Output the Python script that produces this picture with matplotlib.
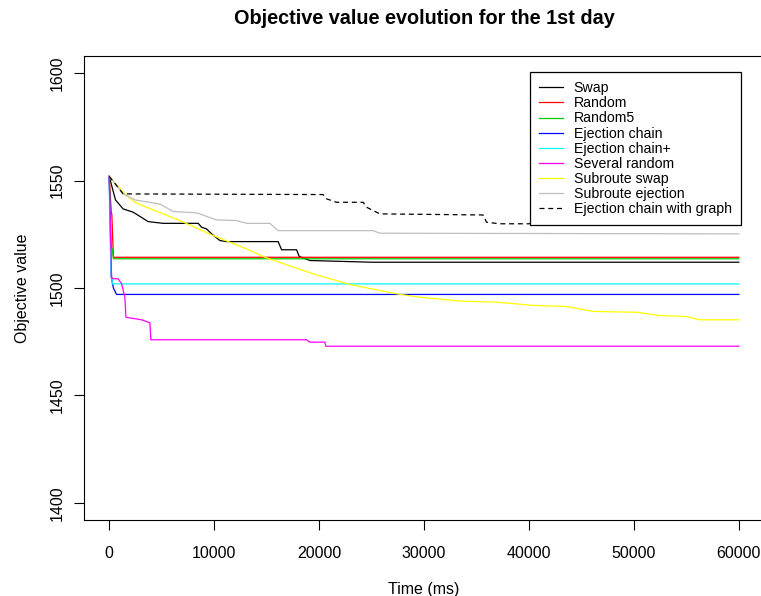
import numpy as np
import matplotlib
matplotlib.use("Agg")
import matplotlib.pyplot as plt

plt.rcParams["font.family"] = ["Liberation Sans", "DejaVu Sans"]

# time (ms) / objective value, one pair of lists per heuristic
swap_t = [0, 600, 1334, 2287, 3716, 5145, 8480, 8804, 9281, 9757, 10548, 11186,
          16103, 16427, 17856, 18104, 19123, 25002, 60000]
swap_v = [1552, 1541, 1536.8, 1535.3, 1530.9, 1530.1, 1530.1, 1528.3, 1527.5, 1525.2,
          1522.1, 1521.6, 1521.6, 1517.8, 1517.8, 1514.7, 1512.8, 1512.0, 1512.0]

random_t = [0, 200, 250, 400, 60000]
random_v = [1552, 1535, 1534.5, 1514.3, 1514.3]

random5_t = [0, 200, 300, 400, 60000]
random5_v = [1552, 1519, 1518, 1513.6, 1513.6]

ejection_t = [0, 200, 400, 700, 60000]
ejection_v = [1552, 1505, 1500, 1497.0, 1497.0]

ejection_plus_t = [0, 50, 150, 300, 60000]
ejection_plus_v = [1552, 1535, 1510, 1501.9, 1501.9]

several_t = [0, 229, 381, 858, 1182, 1496, 1591, 3087, 3878, 3973, 18809, 19123,
             20553, 20648, 60000]
several_v = [1552, 1505.0, 1504.3, 1504.3, 1502, 1495.7, 1486.4, 1485.2, 1483.8,
             1475.9, 1475.9, 1474.8, 1474.8, 1472.9, 1472.9]

sub_swap_t = [0, 1334, 2449, 3564, 6737, 9909, 13092, 14836, 19438, 22964, 27384,
              29605, 31196, 33416, 36913, 40400, 43583, 46117, 50252, 52473, 55017,
              56255, 60000]
sub_swap_v = [1552, 1544.6, 1539.9, 1537.6, 1531.4, 1524.4, 1518.2, 1514.3, 1506.6,
              1501.6, 1497.3, 1495.7, 1495.0, 1493.9, 1493.4, 1491.9, 1491.4, 1489.1,
              1488.7, 1487.2, 1486.7, 1485.2, 1485.2]

sub_ej_t = [0, 1334, 2449, 4831, 6098, 8328, 10233, 12139, 13092, 15312, 16103,
            25155, 25793, 60000]
sub_ej_v = [1552, 1543.8, 1541.0, 1539.1, 1535.6, 1535.0, 1531.7, 1531.4, 1530.1,
            1530.1, 1526.7, 1526.7, 1525.5, 1525.2]

graph_t = [0, 1334, 20391, 20715, 21668, 24202, 24526, 25793, 35636, 35960, 37227, 60000]
graph_v = [1552, 1543.8, 1543.5, 1541.5, 1539.9, 1539.9, 1537.6, 1534.5, 1534.0,
           1530.6, 1529.9, 1529.9]

series = [
    ("Swap", swap_t, swap_v, "black", "-"),
    ("Random", random_t, random_v, "#FF0000", "-"),
    ("Random5", random5_t, random5_v, "#00CD00", "-"),
    ("Ejection chain", ejection_t, ejection_v, "#0000FF", "-"),
    ("Ejection chain+", ejection_plus_t, ejection_plus_v, "#00FFFF", "-"),
    ("Several random", several_t, several_v, "#FF00FF", "-"),
    ("Subroute swap", sub_swap_t, sub_swap_v, "#FFFF00", "-"),
    ("Subroute ejection", sub_ej_t, sub_ej_v, "#BEBEBE", "-"),
    ("Ejection chain with graph", graph_t, graph_v, "black", (0, (4, 3))),
]

fig = plt.figure(figsize=(7.61, 5.96), dpi=100)
ax = fig.add_axes([84 / 761, 76 / 596, 680 / 761, 464 / 596])

for name, t, v, col, ls in series:
    ax.plot(t, v, color=col, linestyle=ls, linewidth=0.9, label=name)

ax.set_xlim(-2400, 62400)
ax.set_ylim(1392, 1608)
ax.set_xticks(range(0, 60001, 10000))
ax.set_yticks(range(1400, 1601, 50))
ax.tick_params(direction="out", length=7, width=0.8, labelsize=11.5)
ax.tick_params(axis="x", pad=12)
ax.tick_params(axis="y", pad=7)
for lab in ax.get_yticklabels():
    lab.set_rotation(90)
    lab.set_va("center")
for s in ax.spines.values():
    s.set_linewidth(0.8)

ax.set_title("Objective value evolution for the 1st day", fontweight="bold",
             fontsize=14.3, pad=23)
ax.set_xlabel("Time (ms)", fontsize=11.5, labelpad=15)
ax.set_ylabel("Objective value", fontsize=11.5, labelpad=14)

leg = ax.legend(loc="upper right", bbox_to_anchor=(741 / 761, 1 - 72 / 596),
                bbox_transform=fig.transFigure, fontsize=10.2, frameon=True,
                fancybox=False, edgecolor="black", framealpha=1,
                handlelength=1.7, handletextpad=0.75, labelspacing=0.08,
                borderpad=0.65, borderaxespad=0)
leg.get_frame().set_linewidth(0.9)

fig.savefig("out.png", dpi=100)
